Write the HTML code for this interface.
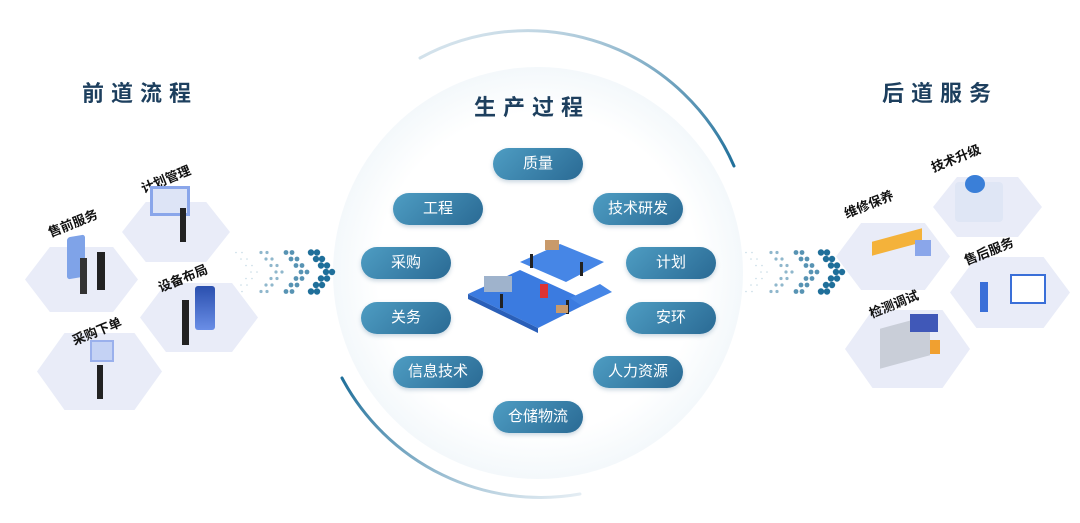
<!DOCTYPE html>
<html><head><meta charset="utf-8"><style>
*{margin:0;padding:0;box-sizing:border-box}
body{width:1080px;height:523px;background:#fff;position:relative;overflow:hidden;font-family:"Liberation Sans","Noto Sans CJK SC",sans-serif}
.t{position:absolute;font-size:22px;font-weight:bold;color:#1d3f5e;letter-spacing:7px}
.hex{position:absolute;background:#e9ecf8;clip-path:polygon(22% 0,78% 0,100% 50%,78% 100%,22% 100%,0 50%)}
.lab{position:absolute;font-size:13px;font-weight:bold;color:#111;transform:rotate(-22deg);transform-origin:left bottom;white-space:nowrap}
.pill{position:absolute;width:90px;height:32px;border-radius:16px;background:linear-gradient(135deg,#4e9dc3,#2a6a94);color:#fff;font-size:15px;text-align:center;line-height:32px;box-shadow:0 2px 4px rgba(40,90,130,.25)}
.circ{position:absolute;left:333px;top:67px;width:410px;height:412px;border-radius:50%;background:radial-gradient(circle,#fff 55%,#eef5f9 78%,#d3e4ee 95%,#c5dbe8 100%)}
</style></head><body>
<div class="circ"></div>
<svg width="1080" height="523" style="position:absolute;left:0;top:0">
<defs>
<linearGradient id="g1" x1="0" y1="0" x2="1" y2="1"><stop offset="0" stop-color="#e6eef4"/><stop offset="1" stop-color="#1f6f9a"/></linearGradient>
<linearGradient id="g2" x1="0" y1="0" x2="1" y2="1"><stop offset="0" stop-color="#1f6f9a"/><stop offset="1" stop-color="#e6eef4"/></linearGradient>
</defs>
<path d="M420 58 A225 225 0 0 1 734 166" fill="none" stroke="url(#g1)" stroke-width="3" stroke-linecap="round"/>
<path d="M342 378 A225 225 0 0 0 580 494" fill="none" stroke="url(#g2)" stroke-width="3" stroke-linecap="round"/>
<g id="dots"></g>
<!-- factory -->
<polygon points="468,294 520,270 590,302 538,328" fill="#3b7be0"/>
<polygon points="468,294 538,328 538,333 468,299" fill="#2a5fb8"/>
<polygon points="520,262 560,244 604,262 566,282" fill="#4686e6"/>
<polygon points="570,298 600,284 612,292 582,306" fill="#4686e6"/>
<rect x="484" y="276" width="28" height="16" fill="#9fb3cc"/>
<rect x="540" y="284" width="8" height="14" fill="#d33"/>
<rect x="545" y="240" width="14" height="10" fill="#c99a6a"/>
<rect x="500" y="294" width="3" height="14" fill="#222"/><rect x="530" y="254" width="3" height="14" fill="#222"/>
<rect x="566" y="300" width="3" height="14" fill="#222"/><rect x="580" y="262" width="3" height="14" fill="#222"/>
<rect x="556" y="305" width="12" height="8" fill="#c99a6a"/>
</svg>
<div class="t" style="left:82px;top:76px">前道流程</div>
<div class="t" style="left:474px;top:90px">生产过程</div>
<div class="t" style="left:882px;top:76px">后道服务</div>

<div class="hex" style="left:25px;top:247px;width:113px;height:65px"></div>
<div class="hex" style="left:122px;top:202px;width:108px;height:60px"></div>
<div class="hex" style="left:140px;top:283px;width:118px;height:69px"></div>
<div class="hex" style="left:37px;top:333px;width:125px;height:77px"></div>
<div class="lab" style="left:52px;top:222px">售前服务</div>
<div class="lab" style="left:145px;top:178px">计划管理</div>
<div class="lab" style="left:162px;top:277px">设备布局</div>
<div class="lab" style="left:76px;top:330px">采购下单</div>
<div style="position:absolute;left:67px;top:236px;width:18px;height:42px;background:#7fa3e8;border-radius:3px;transform:skewY(-10deg)"></div>
<div style="position:absolute;left:80px;top:258px;width:7px;height:36px;background:#333"></div>
<div style="position:absolute;left:97px;top:252px;width:8px;height:38px;background:#222"></div>
<div style="position:absolute;left:150px;top:186px;width:40px;height:30px;background:#dde4f6;border:3px solid #8aa6ea"></div>
<div style="position:absolute;left:180px;top:208px;width:6px;height:34px;background:#222"></div>
<div style="position:absolute;left:195px;top:286px;width:20px;height:44px;background:linear-gradient(#2a4fae,#6a8ee6);border-radius:3px"></div>
<div style="position:absolute;left:182px;top:300px;width:7px;height:45px;background:#222"></div>
<div style="position:absolute;left:90px;top:340px;width:24px;height:22px;background:#c4d2f4;border:2px solid #9ab0ec"></div>
<div style="position:absolute;left:97px;top:365px;width:6px;height:34px;background:#222"></div>

<div class="hex" style="left:836px;top:223px;width:114px;height:67px"></div>
<div class="hex" style="left:933px;top:177px;width:109px;height:60px"></div>
<div class="hex" style="left:950px;top:257px;width:120px;height:71px"></div>
<div class="hex" style="left:845px;top:310px;width:125px;height:78px"></div>
<div class="lab" style="left:848px;top:203px">维修保养</div>
<div class="lab" style="left:935px;top:157px">技术升级</div>
<div class="lab" style="left:968px;top:250px">售后服务</div>
<div class="lab" style="left:873px;top:303px">检测调试</div>
<div style="position:absolute;left:872px;top:235px;width:50px;height:14px;background:#f4b23a;transform:skewY(-15deg)"></div>
<div style="position:absolute;left:915px;top:240px;width:16px;height:16px;background:#8aa6ea"></div>
<div style="position:absolute;left:955px;top:182px;width:48px;height:40px;background:#dfe6f5;border-radius:4px"></div>
<div style="position:absolute;left:965px;top:175px;width:20px;height:18px;background:#3a7fd8;border-radius:50%"></div>
<div style="position:absolute;left:1010px;top:274px;width:36px;height:30px;background:#fff;border:2px solid #3a6fd8"></div>
<div style="position:absolute;left:980px;top:282px;width:8px;height:30px;background:#3a6fd8"></div>
<div style="position:absolute;left:880px;top:322px;width:50px;height:40px;background:#c9ced8;transform:skewY(-15deg)"></div>
<div style="position:absolute;left:910px;top:314px;width:28px;height:18px;background:#4058b8"></div>
<div style="position:absolute;left:930px;top:340px;width:10px;height:14px;background:#f0a030"></div>

<div class="pill" style="left:493px;top:148px">质量</div>
<div class="pill" style="left:393px;top:193px">工程</div>
<div class="pill" style="left:593px;top:193px">技术研发</div>
<div class="pill" style="left:361px;top:247px">采购</div>
<div class="pill" style="left:626px;top:247px">计划</div>
<div class="pill" style="left:361px;top:302px">关务</div>
<div class="pill" style="left:626px;top:302px">安环</div>
<div class="pill" style="left:393px;top:356px">信息技术</div>
<div class="pill" style="left:593px;top:356px">人力资源</div>
<div class="pill" style="left:493px;top:401px">仓储物流</div>
<script>
var g=document.getElementById('dots'),s='';
function arrow(x0,cy){
 for(var c=0;c<4;c++){
  var bx=x0+c*25,r=0.8+c*0.8,op=0.25+c*0.25;
  for(var k=-3;k<=3;k++){
   for(var col=0;col<2;col++){
    var x=bx+(3-Math.abs(k))*5+col*6,y=cy+k*6.5;
    s+='<circle cx="'+x+'" cy="'+y+'" r="'+r+'" fill="#1f6f9a" opacity="'+op+'"/>';
   }
  }
 }
}
arrow(236,272);arrow(746,272);
g.innerHTML=s;
</script>
</body></html>
